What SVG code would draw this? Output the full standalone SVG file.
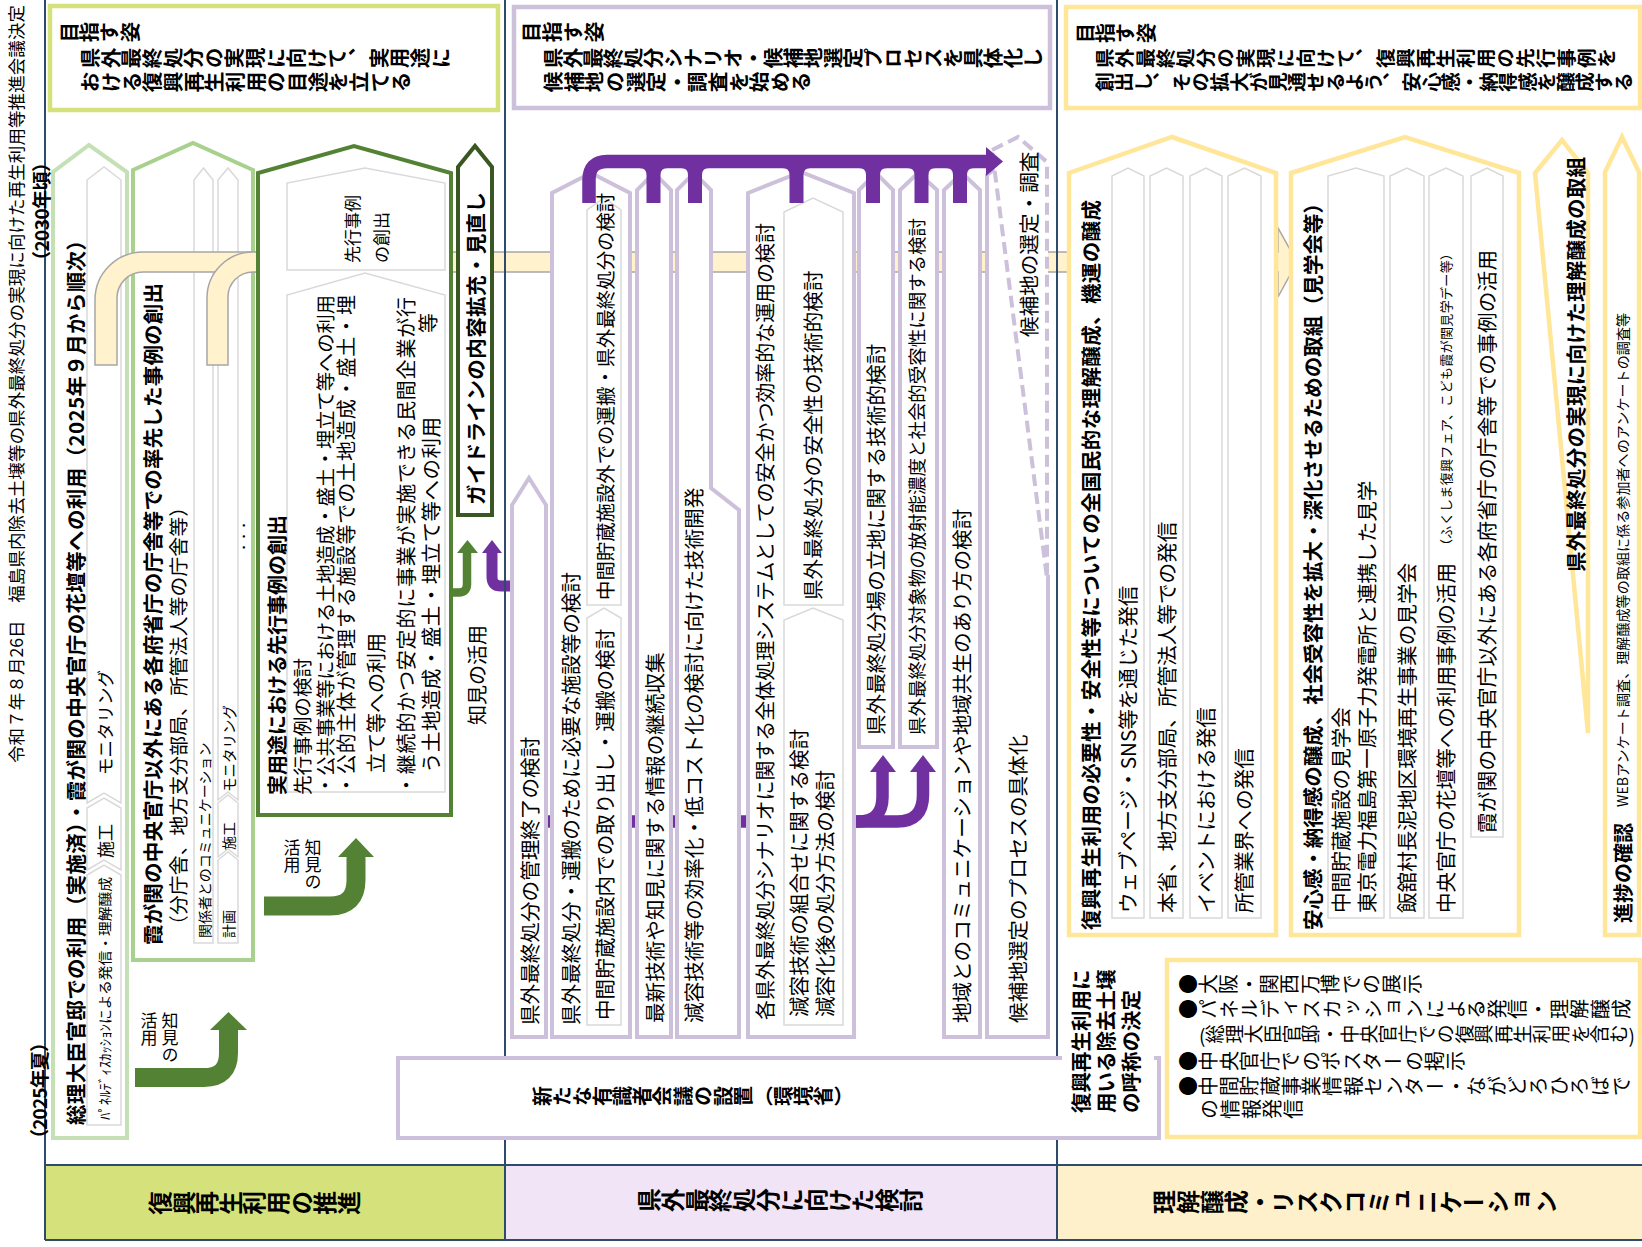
<svg xmlns="http://www.w3.org/2000/svg" width="1642" height="1247" viewBox="0 0 1642 1247">
<defs>
<style>
.f{font-family:"Noto Sans CJK JP","Noto Sans CJK SC","Noto Sans",sans-serif;fill:#000}
.b{font-weight:700}
.c{dominant-baseline:central}
.v{writing-mode:vertical-rl}
.pu{fill:#fff;stroke:#ccc0da;stroke-width:4}
.gy{fill:#fff;stroke:#d9d9d9;stroke-width:1.5}
.yl{fill:#fff;stroke:#ffe699;stroke-width:4.5}
.ln{stroke:#2f4b6b;stroke-width:2;fill:none}
.pp{fill:none;stroke:#7030a0}
.gr{fill:none;stroke:#548235}
</style>
</defs>
<rect width="1642" height="1247" fill="#fff"/>

<g id="bands">
<rect x="45" y="1165" width="460" height="75" fill="#d5e27b"/>
<rect x="505" y="1165" width="552" height="75" fill="#f1e4f6"/>
<rect x="1057" y="1165" width="585" height="75" fill="#fdf0cb"/>
<text class="f c v b" font-size="23.7" transform="rotate(-90 148 1203)" x="148" y="1203" textLength="213" lengthAdjust="spacing">復興再生利用の推進</text>
<text class="f c v b" font-size="23.8" transform="rotate(-90 637 1200)" x="637" y="1200" textLength="286" lengthAdjust="spacing">県外最終処分に向けた検討</text>
<text class="f c v b" font-size="23.9" transform="rotate(-90 1152 1202)" x="1152" y="1202" textLength="406" lengthAdjust="spacing">理解醸成・リスクコミュニケーション</text>
</g>

<g id="goal1">
<rect x="50" y="6" width="448" height="104" fill="#fff" stroke="#d5e27b" stroke-width="4.5"/>
<text class="f c v b" font-size="20.3" transform="rotate(-90 59 32)" x="59" y="32" textLength="81" lengthAdjust="spacing">目指す姿</text>
<text class="f c v b" font-size="20.6" transform="rotate(-90 80 58)" x="80" y="58" textLength="371" lengthAdjust="spacing">県外最終処分の実現に向けて、実用途に</text>
<text class="f c v b" font-size="20.6" transform="rotate(-90 80 82)" x="80" y="82" textLength="331" lengthAdjust="spacing">おける復興再生利用の目途を立てる</text>
</g>
<g id="goal2">
<rect x="514" y="7" width="536" height="101" fill="#fff" stroke="#ccc0da" stroke-width="4.5"/>
<text class="f c v b" font-size="20.6" transform="rotate(-90 521 32)" x="521" y="32" textLength="83" lengthAdjust="spacing">目指す姿</text>
<text class="f c v b" font-size="20.6" transform="rotate(-90 543 58)" x="543" y="58" textLength="500" lengthAdjust="spacing">県外最終処分シナリオ・候補地選定プロセスを具体化し</text>
<text class="f c v b" font-size="20.6" transform="rotate(-90 543 82)" x="543" y="82" textLength="268" lengthAdjust="spacing">候補地の選定・調査を始める</text>
</g>
<g id="goal3">
<rect x="1066" y="7" width="574" height="101" fill="#fff" stroke="#ffe699" stroke-width="4.5"/>
<text class="f c v b" font-size="20" transform="rotate(-90 1075 33)" x="1075" y="33" textLength="81" lengthAdjust="spacing">目指す姿</text>
<text class="f c v b" font-size="19.8" transform="rotate(-90 1095 58)" x="1095" y="58" textLength="521" lengthAdjust="spacing">県外最終処分の実現に向けて、復興再生利用の先行事例を</text>
<text class="f c v b" font-size="19.6" transform="rotate(-90 1095 82)" x="1095" y="82" textLength="538" lengthAdjust="spacing">創出し、その拡大が見通せるよう、安心感・納得感を醸成する</text>
</g>

<g id="n-kantei">
<polygon points="53,1138 53,172 89,145 127,172 127,1138" fill="#fff" stroke="#c5e0b4" stroke-width="4"/>
<polygon class="gy" points="87,1125 87,875 104,865 121,875 121,1125"/>
<polygon class="gy" points="87,870 104,860 121,870 121,808 104,798 87,808"/>
<polygon class="gy" points="87,803 104,793 121,803 121,180 104,167 87,180"/>
<text class="f c b" font-size="20.5" transform="rotate(-90 75 1125)" x="75" y="1125" textLength="895" lengthAdjust="spacing">総理大臣官邸での利用（実施済）・霞が関の中央官庁の花壇等への利用（2025年９月から順次）</text>
<text class="f c" font-size="14" transform="rotate(-90 104 1120)" x="104" y="1120" textLength="243" lengthAdjust="spacingAndGlyphs">ﾊﾟﾈﾙﾃﾞｨｽｶｯｼｮﾝによる発信・理解醸成</text>
<text class="f c" font-size="17" transform="rotate(-90 104 858)" x="104" y="858">施工</text>
<text class="f c" font-size="17.5" transform="rotate(-90 104 775)" x="104" y="775">モニタリング</text>
</g>

<g id="n-kasumigaseki">
<polygon points="133,960 133,170 193,143 253,170 253,960" fill="#fff" stroke="#a9d18e" stroke-width="4"/>
<polygon class="gy" points="194,943 194,180 203.5,168 213,180 213,943"/>
<polygon class="gy" points="218,943 218,860 228,852 238,860 238,943"/>
<polygon class="gy" points="218,857 228,849 238,857 238,803 228,795 218,803"/>
<polygon class="gy" points="218,800 228,792 238,800 238,180 228,168 218,180"/>
<text class="f c b" font-size="20.5" transform="rotate(-90 152 945)" x="152" y="945" textLength="662" lengthAdjust="spacing">霞が関の中央官庁以外にある各府省庁の庁舎等での率先した事例の創出</text>
<text class="f c" font-size="19.8" transform="rotate(-90 177 935)" x="177" y="935" textLength="438" lengthAdjust="spacing">（分庁舎、地方支分部局、所管法人等の庁舎等）</text>
<text class="f c" font-size="14" transform="rotate(-90 203.5 938)" x="203.5" y="938">関係者とのコミュニケーション</text>
<text class="f c" font-size="14" transform="rotate(-90 228 938)" x="228" y="938">計画</text>
<text class="f c" font-size="14" transform="rotate(-90 228 850)" x="228" y="850">施工</text>
<text class="f c" font-size="14.5" transform="rotate(-90 228 792)" x="228" y="792">モニタリング</text>
<text class="f c" font-size="11" transform="rotate(-90 243 553)" x="243" y="553">・・・</text>
</g>

<g id="connectors-back">
<path d="M95,365 V300 A48,48 0 0 1 143,252 H1278 V228 L1297,262 L1278,297 V272 H143 A26,26 0 0 0 117,298 V365 Z" fill="#fff2cc" stroke="#a6a6a6" stroke-width="1.5"/>
<path d="M207,365 V298 A46,46 0 0 1 253,252 H262 V272 H253 A25,25 0 0 0 228,297 V365 Z" fill="#fff2cc" stroke="#a6a6a6" stroke-width="1.5"/>
<path class="pp" stroke-width="12.5" d="M520,821.5 H858 Q882.5,821.5 882.5,797 V770"/>
<path class="pp" stroke-width="12.5" d="M850,821.5 H897 Q923,821.5 923,795 V770"/>
<polygon fill="#7030a0" points="870,772 896,772 883,755"/>
<polygon fill="#7030a0" points="910,772 936,772 923,755"/>
<path class="pp" stroke-width="11" d="M520,586 H501 Q492,586 492,577 V551"/>
<polygon fill="#7030a0" points="482,553 502,553 492,540"/>
</g>

<g id="frame">
<line class="ln" x1="45" y1="0" x2="45" y2="1240"/>
<line class="ln" x1="505" y1="0" x2="505" y2="1240"/>
<line class="ln" x1="1057" y1="0" x2="1057" y2="1240"/>
<line class="ln" x1="45" y1="1165" x2="1642" y2="1165"/>
<line class="ln" x1="45" y1="1240" x2="1642" y2="1240"/>
</g>

<g id="n-senko">
<polygon points="258,815 258,173 354,146 451,173 451,815" fill="#fff" stroke="#548235" stroke-width="4"/>
<polygon class="gy" points="287,270 287,183 365,168 445,183 445,270"/>
<polygon class="gy" points="287,792 287,295 365,273 445,295 445,792"/>
<text class="f c" font-size="17" transform="rotate(-90 351 263)" x="351" y="263">先行事例</text>
<text class="f c" font-size="17" transform="rotate(-90 380 263)" x="380" y="263">の創出</text>
<text class="f c b" font-size="20" transform="rotate(-90 276 795)" x="276" y="795">実用途における先行事例の創出</text>
<text class="f c" font-size="19.6" transform="rotate(-90 301 795)" x="301" y="795">先行事例の検討</text>
<text class="f c" font-size="19.3" transform="rotate(-90 325 795)" x="325" y="795" textLength="500" lengthAdjust="spacing">・公共事業等における土地造成・盛土・埋立て等への利用</text>
<text class="f c" font-size="20" transform="rotate(-90 345 795)" x="345" y="795" textLength="500" lengthAdjust="spacing">・公的主体が管理する施設等での土地造成・盛土・埋</text>
<text class="f c" font-size="20" transform="rotate(-90 375 773)" x="375" y="773">立て等への利用</text>
<text class="f c" font-size="20" transform="rotate(-90 405 795)" x="405" y="795" textLength="498" lengthAdjust="spacing">・継続的かつ安定的に事業が実施できる民間企業が行</text>
<text class="f c" font-size="20.5" transform="rotate(-90 430 773)" x="430" y="773" textLength="356" lengthAdjust="spacing">う土地造成・盛土・埋立て等への利用</text>
<text class="f c" font-size="20" transform="rotate(-90 427 333)" x="427" y="333">等</text>
</g>

<g id="n-guideline">
<polygon points="458,515 458,167 475,146 492,167 492,515" fill="#fff" stroke="#385723" stroke-width="4"/>
<text class="f c b" font-size="20.5" transform="rotate(-90 475 505)" x="475" y="505" textLength="313" lengthAdjust="spacing">ガイドラインの内容拡充・見直し</text>
<text class="f c" font-size="20" transform="rotate(-90 476 725)" x="476" y="725">知見の活用</text>
</g>

<g id="n-kanri">
<polygon class="pu" points="512,1037 512,505 529,478 546,505 546,1037"/>
<text class="f c" font-size="20.6" transform="rotate(-90 529 1025)" x="529" y="1025">県外最終処分の管理終了の検討</text>
</g>
<g id="n-shisetsu">
<polygon class="pu" points="552,1037 552,193 591,173 630,193 630,1037"/>
<polygon class="gy" points="587,605 587,210 604,198 621,210 621,605"/>
<polygon class="gy" points="587,1025 587,618 604,608 621,618 621,1025"/>
<text class="f c" font-size="20.6" transform="rotate(-90 570 1025)" x="570" y="1025">県外最終処分・運搬のために必要な施設等の検討</text>
<text class="f c" font-size="19.4" transform="rotate(-90 604 600)" x="604" y="600">中間貯蔵施設外での運搬・県外最終処分の検討</text>
<text class="f c" font-size="20.6" transform="rotate(-90 604 1020)" x="604" y="1020">中間貯蔵施設内での取り出し・運搬の検討</text>
</g>
<g id="n-saishin">
<polygon class="pu" points="637,1037 637,190 654,173 671,190 671,1037"/>
<text class="f c" font-size="20.6" transform="rotate(-90 654 1023)" x="654" y="1023">最新技術や知見に関する情報の継続収集</text>
</g>
<g id="n-genyo">
<polygon class="pu" points="677,1037 677,190 694,173 711,190 711,488 739,510 739,1037"/>
<text class="f c" font-size="20.6" transform="rotate(-90 693 1023)" x="693" y="1023">減容技術等の効率化・低コスト化の検討に向けた技術開発</text>
</g>
<g id="n-scenario">
<polygon class="pu" points="748,1037 748,193 801,172 854,193 854,1037"/>
<polygon class="gy" points="784,605 784,212 813,198 843,212 843,605"/>
<polygon class="gy" points="784,1025 784,620 813,608 843,620 843,1025"/>
<text class="f c" font-size="20" transform="rotate(-90 764 1020)" x="764" y="1020" textLength="797" lengthAdjust="spacing">各県外最終処分シナリオに関する全体処理システムとしての安全かつ効率的な運用の検討</text>
<text class="f c" font-size="20.6" transform="rotate(-90 812 600)" x="812" y="600">県外最終処分の安全性の技術的検討</text>
<text class="f c" font-size="20.6" transform="rotate(-90 798 1017)" x="798" y="1017">減容技術の組合せに関する検討</text>
<text class="f c" font-size="20.6" transform="rotate(-90 824 1017)" x="824" y="1017">減容化後の処分方法の検討</text>
</g>
<g id="n-ricchi">
<polygon class="pu" points="859,747 859,190 876,173 893,190 893,747"/>
<text class="f c" font-size="20.6" transform="rotate(-90 875 735)" x="875" y="735">県外最終処分場の立地に関する技術的検討</text>
</g>
<g id="n-juyo">
<polygon class="pu" points="900,747 900,190 918,173 937,190 937,747"/>
<text class="f c" font-size="18.5" transform="rotate(-90 916 735)" x="916" y="735" textLength="517" lengthAdjust="spacingAndGlyphs">県外最終処分対象物の放射能濃度と社会的受容性に関する検討</text>
</g>
<g id="n-chiiki">
<polygon class="pu" points="944,1037 944,190 962,173 980,190 980,1037"/>
<text class="f c" font-size="20.6" transform="rotate(-90 961 1023)" x="961" y="1023">地域とのコミュニケーションや地域共生のあり方の検討</text>
</g>
<g id="n-process">
<polygon fill="#fff" points="987,1037 987,175 1017,152 1048,175 1048,1037"/>
<path d="M1048,575 V1037 H987 V175 L1017,152" fill="none" stroke="#ccc0da" stroke-width="4"/>
<text class="f c" font-size="20.6" transform="rotate(-90 1017 1023)" x="1017" y="1023">候補地選定のプロセスの具体化</text>
</g>
<g id="n-senteichosa">
<polygon points="992,150 1018,137 1047,162 1047,578" fill="#fff" stroke="#ccc0da" stroke-width="4" stroke-dasharray="12 6"/>
<text class="f c" font-size="20.6" transform="rotate(-90 1028 337)" x="1028" y="337">候補地の選定・調査</text>
</g>

<g id="n-zenkoku">
<polygon class="yl" points="1069,935 1069,173 1172,137 1276,173 1276,935"/>
<polygon class="gy" points="1112,918 1112,176 1128,168 1144,176 1144,918"/>
<polygon class="gy" points="1150,918 1150,176 1166.5,168 1183,176 1183,918"/>
<polygon class="gy" points="1190,918 1190,176 1206,168 1222,176 1222,918"/>
<polygon class="gy" points="1228,918 1228,176 1244.5,168 1261,176 1261,918"/>
<text class="f c b" font-size="20.5" transform="rotate(-90 1090 930)" x="1090" y="930" textLength="730" lengthAdjust="spacing">復興再生利用の必要性・安全性等についての全国民的な理解醸成、機運の醸成</text>
<text class="f c" font-size="20.6" transform="rotate(-90 1127 913)" x="1127" y="913">ウェブページ・SNS等を通じた発信</text>
<text class="f c" font-size="20.6" transform="rotate(-90 1166 913)" x="1166" y="913">本省、地方支分部局、所管法人等での発信</text>
<text class="f c" font-size="20.6" transform="rotate(-90 1205 913)" x="1205" y="913">イベントにおける発信</text>
<text class="f c" font-size="20.6" transform="rotate(-90 1243 913)" x="1243" y="913">所管業界への発信</text>
</g>
<g id="n-kengaku">
<polygon class="yl" points="1291,935 1291,173 1405,137 1519,173 1519,935"/>
<polygon class="gy" points="1328,918 1328,176 1356,168 1384,176 1384,918"/>
<polygon class="gy" points="1390,918 1390,176 1407,168 1424,176 1424,918"/>
<polygon class="gy" points="1429,918 1429,176 1446,168 1463,176 1463,918"/>
<polygon class="gy" points="1471,837 1471,176 1487,168 1503,176 1503,837"/>
<text class="f c b" font-size="20.5" transform="rotate(-90 1312 930)" x="1312" y="930" textLength="737" lengthAdjust="spacing">安心感・納得感の醸成、社会受容性を拡大・深化させるための取組（見学会等）</text>
<text class="f c" font-size="20.6" transform="rotate(-90 1340 913)" x="1340" y="913">中間貯蔵施設の見学会</text>
<text class="f c" font-size="20.6" transform="rotate(-90 1366 913)" x="1366" y="913">東京電力福島第一原子力発電所と連携した見学</text>
<text class="f c" font-size="20.6" transform="rotate(-90 1406 913)" x="1406" y="913">飯舘村長泥地区環境再生事業の見学会</text>
<text class="f c" font-size="20.6" transform="rotate(-90 1445 913)" x="1445" y="913">中央官庁の花壇等への利用事例の活用</text>
<text class="f c" font-size="13" transform="rotate(-90 1445 552)" x="1445" y="552" textLength="305" lengthAdjust="spacing">（ふくしま復興フェア、こども霞が関見学デー等）</text>
<text class="f c" font-size="20.6" transform="rotate(-90 1486 833)" x="1486" y="833" textLength="583" lengthAdjust="spacing">霞が関の中央官庁以外にある各府省庁の庁舎等での事例の活用</text>
</g>
<g id="n-kengai-rikai">
<polygon points="1535,173 1562,140 1588,173 1588,733" fill="#fff" stroke="#ffe699" stroke-width="4.5"/>
<text class="f c b" font-size="20.5" transform="rotate(-90 1575 572)" x="1575" y="572" textLength="415" lengthAdjust="spacing">県外最終処分の実現に向けた理解醸成の取組</text>
</g>
<g id="n-shincho">
<polygon class="yl" points="1605,935 1605,172 1622,137 1639,172 1639,935"/>
<text class="f c b" font-size="20" transform="rotate(-90 1622 923)" x="1622" y="923">進捗の確認</text>
<text class="f c" font-size="14" transform="rotate(-90 1622 807)" x="1622" y="807" textLength="494" lengthAdjust="spacing">WEBアンケート調査、理解醸成等の取組に係る参加者へのアンケートの調査等</text>
</g>

<g id="connectors">
<path class="pp" stroke-width="13.5" d="M589,203 V180 Q589,161.5 607,161.5 H988"/>
<polygon fill="#7030a0" points="986,147 1003,161.5 986,176"/>
<g fill="#7030a0">
<path d="M639.5,168 Q646.5,168 646.5,175 V203 H660.5 V175 Q660.5,168 667.5,168 Z"/>
<path d="M681,168 Q688,168 688,175 V203 H702 V175 Q702,168 709,168 Z"/>
<path d="M782.5,168 Q789.5,168 789.5,175 V203 H803.5 V175 Q803.5,168 810.5,168 Z"/>
<path d="M859,168 Q866,168 866,175 V203 H880 V175 Q880,168 887,168 Z"/>
<path d="M907.5,168 Q914.5,168 914.5,175 V203 H928.5 V175 Q928.5,168 935.5,168 Z"/>
<path d="M946,168 Q953,168 953,175 V203 H967 V175 Q967,168 974,168 Z"/>
</g>
<path class="gr" stroke-width="19" d="M135,1077.5 H204 Q228.5,1077.5 228.5,1053 V1028"/>
<polygon fill="#548235" points="210,1030 247,1030 228.5,1012"/>
<path class="gr" stroke-width="19" d="M264,906 H330 Q356,906 356,880 V855"/>
<polygon fill="#548235" points="338,857 374,857 356,838"/>
<path class="gr" stroke-width="8.5" d="M451,592.5 H459 Q467,592.5 467,584 V551"/>
<polygon fill="#548235" points="457,553 478,553 467.5,540"/>
<text class="f c v" font-size="17" x="170" y="1012">知見の</text>
<text class="f c v" font-size="17" x="149" y="1012">活用</text>
<text class="f c v" font-size="17" x="313" y="839">知見の</text>
<text class="f c v" font-size="17" x="292" y="839">活用</text>
</g>

<g id="n-council">
<rect x="398" y="1058" width="761" height="80" fill="#fff" stroke="#ccc0da" stroke-width="4"/>
<text class="f c v b" font-size="20" transform="rotate(-90 532 1096)" x="532" y="1096" textLength="322" lengthAdjust="spacing">新たな有識者会議の設置（環境省）</text>
</g>
<g id="n-name">
<rect x="1062" y="963" width="92" height="156" fill="#fff"/>
<text class="f c b" font-size="20.5" transform="rotate(-90 1080 1113)" x="1080" y="1113">復興再生利用に</text>
<text class="f c b" font-size="20.5" transform="rotate(-90 1105 1113)" x="1105" y="1113">用いる除去土壌</text>
<text class="f c b" font-size="20.5" transform="rotate(-90 1130 1113)" x="1130" y="1113">の呼称の決定</text>
</g>
<g id="n-bullets">
<rect x="1167" y="960" width="473" height="177" fill="#fff" stroke="#ffe699" stroke-width="4.5"/>
<text class="f c v" font-size="20" transform="rotate(-90 1178 984)" x="1178" y="984" textLength="244" lengthAdjust="spacing">●大阪・関西万博での展示</text>
<text class="f c v" font-size="20" transform="rotate(-90 1178 1009)" x="1178" y="1009" textLength="453" lengthAdjust="spacing">●パネルディスカッションによる発信・理解醸成</text>
<text class="f c v" font-size="19" transform="rotate(-90 1199 1034)" x="1199" y="1034" textLength="436" lengthAdjust="spacing">(総理大臣官邸・中央官庁での復興再生利用を含む)</text>
<text class="f c v" font-size="20" transform="rotate(-90 1178 1061)" x="1178" y="1061" textLength="287" lengthAdjust="spacing">●中央官庁でのポスターの掲示</text>
<text class="f c v" font-size="20" transform="rotate(-90 1178 1086)" x="1178" y="1086" textLength="453" lengthAdjust="spacing">●中間貯蔵事業情報センター・ながどろひろばで</text>
<text class="f c v" font-size="20" transform="rotate(-90 1199 1109)" x="1199" y="1109" textLength="104" lengthAdjust="spacing">の情報発信</text>
</g>

<g id="margin">
<text class="f c" font-size="17.5" transform="rotate(-90 15 763)" x="15" y="763" textLength="758" lengthAdjust="spacing">令和７年８月26日　福島県内除去土壌等の県外最終処分の実現に向けた再生利用等推進会議決定</text>
<text class="f c b" font-size="19" transform="rotate(-90 40 270)" x="40" y="270" textLength="117" lengthAdjust="spacing">（2030年頃）</text>
<text class="f c b" font-size="19" transform="rotate(-90 38 1148)" x="38" y="1148" textLength="115" lengthAdjust="spacing">（2025年夏）</text>
</g>
</svg>
